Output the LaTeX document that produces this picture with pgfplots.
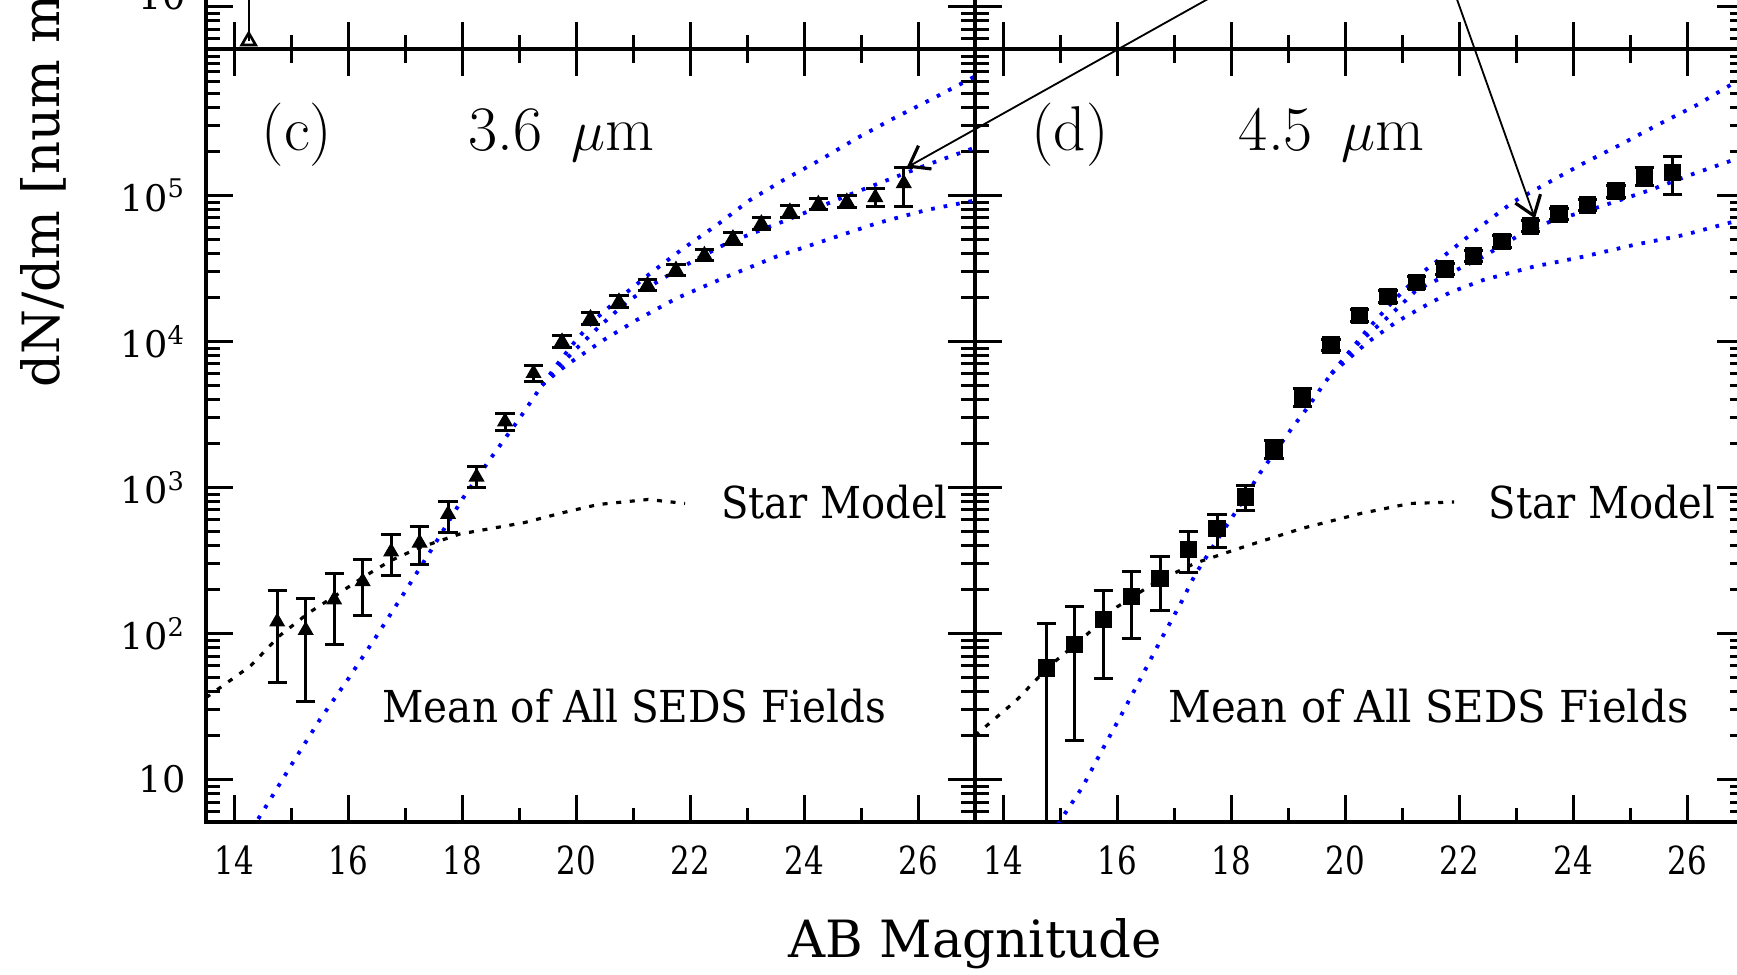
\documentclass[border=0pt]{standalone}
\usepackage{pgfplots}
\pgfplotsset{compat=1.18}
\usepackage{pgfplotstable}
\usepackage{graphicx}
\usepackage{fontspec}
\setmainfont{DejaVu Serif}
\newfontfamily\lmr{Latin Modern Roman}
\usetikzlibrary{arrows.meta}
\definecolor{modelblue}{RGB}{0,0,255}
\newcommand\sx[1]{\scalebox{0.8}[1]{#1}}

\pgfplotstableread{
m y ep em
14.75 120 78 74
15.25 105 67 71
15.75 170 88 86
16.25 227 92 95
16.75 362 112 114
17.25 417 124 121
17.75 655 140 161
18.25 1180 200 180
18.75 2820 390 350
19.25 6040 760 740
19.75 9940 950 880
20.25 14400 1380 1270
20.75 18700 1800 1650
21.25 24300 2330 2140
21.75 30900 2970 2720
22.25 39000 3740 3430
22.75 50700 4870 4460
23.25 64200 6160 5650
23.75 77300 7420 6800
24.25 87200 8370 7670
24.75 90400 8680 7960
25.25 96800 14900 13200
25.75 120800 34800 36300
}\cdata

\pgfplotstableread{
m y ep em
14.75 58 58 57
15.25 84 68 65.6
15.75 124 74 75
16.25 179 87 87
16.75 237 100 94
17.25 375 123 113
17.75 524 131 134
18.25 861 177 164
18.75 1800 285 220
19.25 4170 590 570
19.75 9440 906 830
20.25 15100 1450 1330
20.75 20200 1940 1780
21.25 25400 2440 2230
21.75 31300 3000 2750
22.25 38500 3700 3390
22.75 48100 4620 4230
23.25 61700 5920 5430
23.75 74500 7150 6560
24.25 85900 8250 7560
24.75 107000 10700 10200
25.25 135500 20100 17800
25.75 142900 43000 40800
}\ddata

\pgfplotstableread{
m y ep em
14.25 5.8 30 0
}\adata

\pgfplotsset{
 mypanel/.style={
  scale only axis, width=230.7pt, height=231.9pt,
  xmin=13.5, xmax=27, ymin=5.08, ymax=1e6,
  axis line style={line width=1.2pt},
  every tick/.style={black, line width=0.9pt},
  major tick length=8.1pt, minor tick length=4.2pt,
  tick align=inside,
  xtick={14,16,18,20,22,24,26},
  minor xtick={15,17,19,21,23,25},
  ytick={10,100,1000,10000,100000,1000000},
  minor ytick={6,7,8,9,20,30,40,50,60,70,80,90,200,300,400,500,600,700,800,900,2000,3000,4000,5000,6000,7000,8000,9000,20000,30000,40000,50000,60000,70000,80000,90000,200000,300000,400000,500000,600000,700000,800000,900000},
  xticklabel style={font=\fontsize{11.6}{12}\selectfont, yshift=-3.6pt},
  yticklabel style={font=\fontsize{11}{12}\selectfont, xshift=-2.6pt},
  xticklabels={\sx{14},\sx{16},\sx{18},\sx{20},\sx{22},\sx{24},\sx{26}},
  yticklabels={},
 },
 mymodel/.style={modelblue, line width=1.15pt, dash pattern=on 1.1pt off 2.7pt, mark=none},
 mystar/.style={black, line width=0.95pt, dash pattern=on 1.5pt off 2.6pt, mark=none},
 mydata/.style={black, only marks, mark size=2.4pt, mark options={line width=0.4pt, fill=black},
  error bars/y dir=both, error bars/y explicit,
  error bars/error bar style={line width=0.9pt, black, solid},
  error bars/error mark options={rotate=90, black, line width=0.9pt, mark size=2.9pt}},
}
\tikzset{
 lab/.style={font=\lmr\fontsize{19}{21}\selectfont},
 txt/.style={font=\fontsize{13.2}{14}\selectfont},
}

\begin{document}
\begin{tikzpicture}
\useasboundingbox (-61.8pt,-45.5pt) rectangle (459.3pt,246.7pt);

% upper panels (only their lower edge is visible)
\begin{semilogyaxis}[mypanel, at={(0pt,231.9pt)}, anchor=south west, xticklabels={},
  yticklabels={10,{},{},{},{},{}}, yticklabel style={yshift=3pt}]
\addplot[black, only marks, mark=triangle, mark size=2.4pt, mark options={line width=0.8pt, fill=white},
  error bars/y dir=plus, error bars/y explicit,
  error bars/error bar style={line width=0.7pt, black},
  error bars/error mark=none]
  table[x=m, y=y, y error plus=ep, y error minus=em] {\adata};
\end{semilogyaxis}
\begin{semilogyaxis}[mypanel, at={(230.7pt,231.9pt)}, anchor=south west, xticklabels={}]
\addplot[draw=none, mark=none] coordinates {(20,1000)};
\end{semilogyaxis}

% panel (c)
\begin{semilogyaxis}[mypanel, at={(0pt,0pt)}, anchor=south west,
  yticklabels={10,10\textsuperscript{2},10\textsuperscript{3},10\textsuperscript{4},10\textsuperscript{5},{}}]
\addplot[mystar] coordinates {(13.5,36.3) (14.28,59.7) (14.78,95.5) (15.3,138) (15.76,180) (16.28,245.5) (16.75,316) (17.24,385.5) (17.95,478.6) (19.08,572.8) (19.8,676) (20.39,763.8) (21.26,826) (21.91,776)};
\addplot[mymodel] coordinates {(14.3,4.52) (14.65,7.53) (15.0,12.59) (15.5,25.7) (16.0,49.0) (16.5,96.6) (17.0,195) (17.5,398) (18.0,832) (18.5,1585) (19.0,2951) (19.4,5012)};
\addplot[mymodel] coordinates {(19.4,5012) (19.7,7244) (20.0,10230) (20.3,13800) (20.77,19950) (21.3,29240) (21.88,43350) (22.47,62660) (23.05,92900) (23.64,127400) (24.28,174600) (24.92,245500) (25.57,336500) (26.21,449800) (26.88,616600) (27.0,653100)};
\addplot[mymodel] coordinates {(19.4,5012) (19.7,6761) (20.0,8913) (20.4,12590) (20.89,18660) (21.47,26300) (22.05,35480) (22.64,46880) (23.69,67610) (24.86,103300) (26.15,161400) (26.88,204200) (27.0,212300)};
\addplot[mymodel] coordinates {(19.4,5012) (19.7,6310) (19.95,7413) (20.48,10210) (21.06,14000) (21.76,19720) (22.64,27730) (23.51,38020) (24.39,49430) (25.27,64270) (26.15,79430) (26.88,90360) (27.0,92260)};
\addplot[mydata, mark=triangle*] table[x=m, y=y, y error plus=ep, y error minus=em] {\cdata};
\node[lab] at (axis cs:15.1,258800) {(c)};
\node[lab] at (axis cs:19.74,258800) {3.6\hspace{0.45em}$\mu$m};
\node[txt] at (axis cs:24.53,794) {\scalebox{0.91}[1]{Star Model}};
\node[txt] at (axis cs:21.02,31.9) {\scalebox{0.92}[1]{Mean of All SEDS Fields}};
\coordinate (ctip) at (axis cs:25.8,155000);
\coordinate (cstart) at (axis cs:32.94,5610000);
\end{semilogyaxis}

% panel (d)
\begin{semilogyaxis}[mypanel, at={(230.7pt,0pt)}, anchor=south west]
\addplot[mystar] coordinates {(13.5,19.95) (14.23,34.9) (14.79,59) (15.39,92.5) (15.99,151.4) (16.68,225.4) (17.36,302) (18.22,391.7) (19.25,524.8) (20.28,663.7) (21.14,776) (21.91,794)};
\addplot[mymodel] coordinates {(14.95,4.9) (15.39,8.91) (15.73,15.85) (16.08,28.18) (16.42,50.12) (16.76,89.95) (17.11,160.3) (17.36,251) (17.71,412) (18.09,692) (18.5,1247) (18.77,1754) (19.06,2535) (19.35,3565) (19.61,5012) (19.76,6026)};
\addplot[mymodel] coordinates {(19.76,6026) (20.38,11940) (20.85,19050) (21.37,29990) (21.78,39810) (22.37,60950) (22.95,90360) (23.54,120800) (24.18,165600) (24.82,221300) (25.47,302000) (26.17,415000) (26.81,584800) (27.0,631000)};
\addplot[mymodel] coordinates {(19.76,6026) (20.26,10000) (20.79,15140) (21.25,22440) (21.84,29240) (22.42,38020) (23.01,52120) (23.59,65920) (24.47,83560) (25.35,108600) (26.05,137700) (26.81,174600) (27.0,184100)};
\addplot[mymodel] coordinates {(19.76,6026) (20.38,9772) (20.9,13610) (21.37,17260) (21.84,21630) (22.42,26300) (23.3,32430) (24.18,38020) (25.06,45710) (25.94,53460) (26.81,65920) (27.0,68390)};
\addplot[mydata, mark=square*] table[x=m, y=y, y error plus=ep, y error minus=em] {\ddata};
\node[lab] at (axis cs:15.17,258800) {(d)};
\node[lab] at (axis cs:19.76,258800) {4.5\hspace{0.45em}$\mu$m};
\node[txt] at (axis cs:24.51,794) {\scalebox{0.91}[1]{Star Model}};
\node[txt] at (axis cs:21.46,31.9) {\scalebox{0.95}[1]{Mean of All SEDS Fields}};
\coordinate (dtip) at (axis cs:23.33,69500);
\coordinate (dstart) at (axis cs:21.59,5610000);
\end{semilogyaxis}

\draw[line width=0.55pt, -{Straight Barb[length=5.5pt, width=8pt, line width=0.95pt]}] (cstart) -- (ctip);
\draw[line width=0.55pt, -{Straight Barb[length=5.5pt, width=8pt, line width=0.95pt]}] (dstart) -- (dtip);

\node[font=\fontsize{15.4}{17}\selectfont] at (230.85pt,-36.5pt) {AB Magnitude};
\node[font=\fontsize{15.4}{17}\selectfont, rotate=90, anchor=west] at (-48.5pt,127pt) {dN/dm [num mag\textsuperscript{$-1$} deg\textsuperscript{$-2$}]};
\end{tikzpicture}
\end{document}
